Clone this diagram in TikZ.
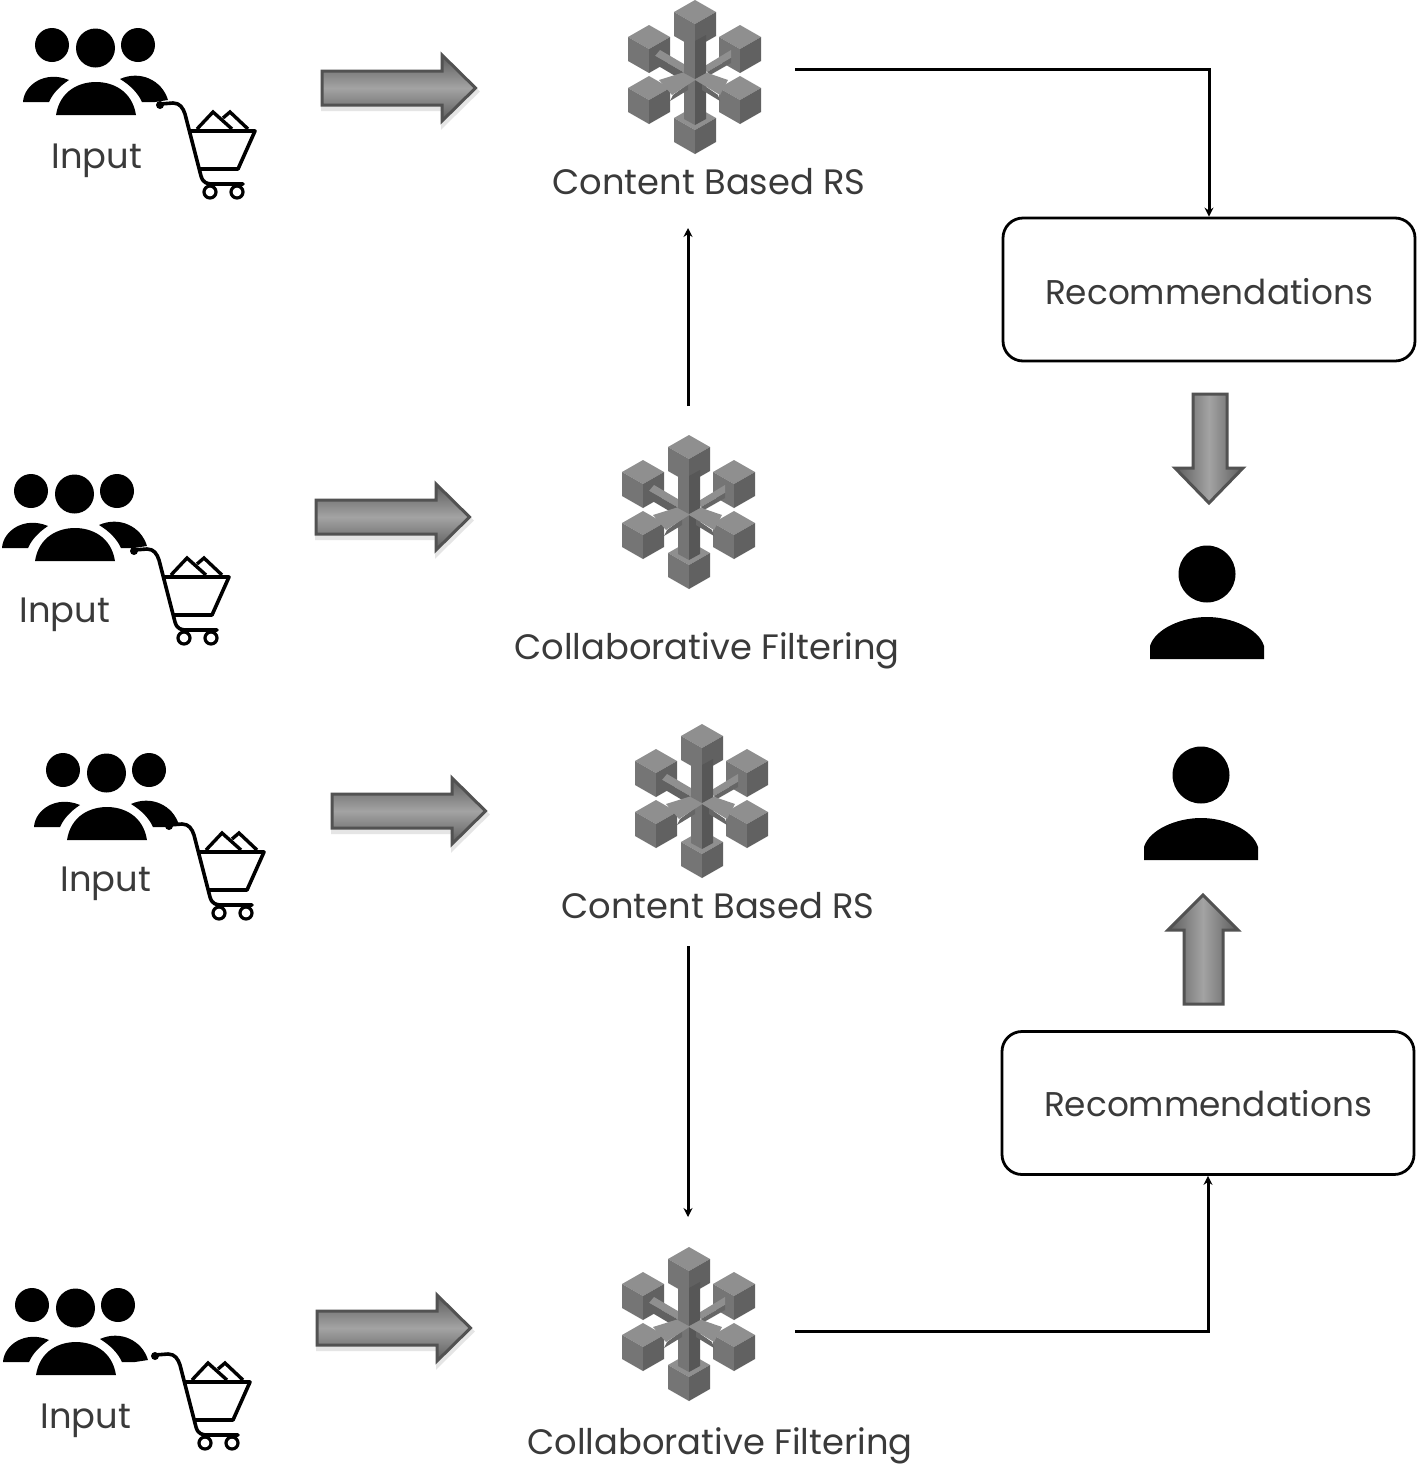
\documentclass[tikz,border=0pt]{standalone}
\usepackage{fontspec}
\setmainfont{Poppins}
\usetikzlibrary{arrows.meta}
\definecolor{txt}{HTML}{3A3A3A}
\tikzset{
  lbl/.style={text=txt,inner sep=0pt,font=\fontsize{35.3}{35.3}\selectfont},
  rectext/.style={text=txt,inner sep=0pt,font=\fontsize{34.3}{34.3}\selectfont},
  recbox/.style={draw=black,line width=2.8pt,rounded corners=20pt,minimum width=412pt,minimum height=143pt,inner sep=0pt},
  conn/.style={draw=black,line width=3pt,-{Stealth[length=9pt,width=9pt]}},
  blockh/.style={draw=black!68,line width=3pt,line join=miter,top color=black!64,bottom color=black!64,middle color=black!36},
  blockv/.style={draw=black!68,line width=3pt,line join=miter,left color=black!64,right color=black!64,middle color=black!36},
  shadowb/.style={draw=black!10,line width=4pt,fill=black!10},
  cubeT/.style={fill=black!44},
  cubeL/.style={fill=black!54},
  cubeR/.style={fill=black!62},
  people/.pic={
    \fill[black] (52,45) circle[radius=17] (95.5,48) circle[radius=19.5] (138,45) circle[radius=17];
    \fill[black] (23,102) .. controls (24,85) and (45,70) .. (69,80) .. controls (60,86) and (53,93) .. (49,102) -- cycle;
    \fill[black] (56,115) .. controls (60,90) and (80,82) .. (96,82) .. controls (112,82) and (132,90) .. (136,115) -- cycle;
    \fill[black] (120,79) .. controls (140,70) and (162,80) .. (168,100) -- (155,102) -- (142,102) .. controls (138,93) and (130,85) .. (120,79) -- cycle;
  },
  cart/.pic={
    \fill[black] (160,105) circle[radius=4];
    \draw[black,line width=3.6pt,line join=round,line cap=round]
      (160,104) -- (173,103) .. controls (180,103) and (183,108) .. (185,114) -- (201,176) .. controls (203,183) and (207,184) .. (213,184) -- (243,184);
    \draw[black,line width=3.6pt,line join=round] (188,131) -- (255,131) -- (238,169) -- (198,169);
    \draw[black,line width=3.4pt,line join=miter] (197,129) -- (213,112) -- (232,129);
    \draw[black,line width=3.4pt,line join=miter] (223,118) -- (230,112) -- (248,129);
    \draw[black,line width=3.2pt,fill=white] (210,192) circle[radius=6] (237,192) circle[radius=6];
  },
  flakecube/.pic={
    \path[cubeT] (0,-24) -- (21,-12) -- (0,0) -- (-21,-12) -- cycle;
    \path[cubeL] (-21,-12) -- (0,0) -- (0,24) -- (-21,12) -- cycle;
    \path[cubeR] (21,-12) -- (0,0) -- (0,24) -- (21,12) -- cycle;
  },
  flake/.pic={
    \pic at (-46,-28) {flakecube};
    \pic at (45,-28) {flakecube};
    % upper bars
    \path[fill=black!44] (-35,-27) -- (-6,-10) -- (-10,-4) -- (-40,-21) -- cycle;
    \path[fill=black!62] (-40,-21) -- (-10,-4) -- (-13,3) -- (-40,-13) -- cycle;
    \path[fill=black!44] (36,-27) -- (8,-10) -- (12,-5) -- (36,-19) -- cycle;
    \path[fill=black!60] (36,-19) -- (12,-5) -- (15,-2) -- (36,-14) -- cycle;
    \pic at (0,53) {flakecube};
    % lower vertical bar
    \path[fill=black!54] (-11,-6) -- (0,0) -- (0,48) -- (-11,42) -- cycle;
    \path[fill=black!66] (11,-6) -- (0,0) -- (0,48) -- (11,42) -- cycle;
    \pic at (-46,23) {flakecube};
    \pic at (45,23) {flakecube};
    % lower side bars
    \path[fill=black!60] (-25,24) -- (-22,18) -- (-7,7) -- (-7,13) -- cycle;
    \path[fill=black!44] (-36,3) -- (-4,-7) -- (5,0) -- (-23,18) -- cycle;
    \path[fill=black!60] (25,24) -- (23,18) -- (7,7) -- (7,13) -- cycle;
    \path[fill=black!44] (33,3) -- (4,-7) -- (-5,0) -- (25,18) -- cycle;
    % upper vertical bar
    \pic at (0,-53) {flakecube};
    \path[fill=black!54] (-11,-42) -- (0,-36) -- (0,2) -- (-11,-4) -- cycle;
    \path[fill=black!66] (11,-42) -- (0,-36) -- (0,2) -- (11,-4) -- cycle;
  },
  arrowh/.pic={
    \path[shadowb] (1,-15) -- (121,-15) -- (121,-30) -- (155,3.5) -- (121,37) -- (121,21) -- (1,21) -- cycle;
    \path[blockh] (0,-17) -- (120,-17) -- (120,-33) -- (153.5,0) -- (120,33) -- (120,17) -- (0,17) -- cycle;
  },
  personicon/.pic={
    \fill[black] (0,0) circle[radius=28.5];
    \fill[black] (-57,85) -- (-57,72) .. controls (-52,55) and (-25,43) .. (0,43) .. controls (25,43) and (52,55) .. (57,72) -- (57,85) -- cycle;
  }
}
\begin{document}
\begin{tikzpicture}[x=1pt,y=-1pt]
\useasboundingbox (0,0) rectangle (1419,1465);
\fill[white] (0,0) rectangle (1419,1465);

% inputs
\pic at (0,0) {people};      \pic at (0,0) {cart};
\pic at (-21,446) {people};  \pic at (-26,446) {cart};
\pic at (11,725) {people};   \pic at (9,721) {cart};
\pic at (-20,1260) {people}; \pic at (-5,1251) {cart};
\node[lbl] (in1) at (97,161) {Input};
\node[lbl] (in2) at (65,615) {Input};
\node[lbl] (in3) at (106,884) {Input};
\node[lbl] (in4) at (86,1421) {Input};

% block arrows
\pic at (322,88) {arrowh};
\pic at (316,517) {arrowh};
\pic at (332,811) {arrowh};
\pic at (317,1328) {arrowh};

% snowflakes
\pic at (695,77) {flake};
\pic at (689,512) {flake};
\pic at (702,801) {flake};
\pic at (689,1324) {flake};
\node[lbl] (cb1) at (709,182) {Content Based RS};
\node[lbl] (cf1) at (707,651) {Collaborative Filtering};
\node[lbl] (cb2) at (718,906) {Content Based RS};
\node[lbl] (cf2) at (720,1446) {Collaborative Filtering};

% recommendation boxes
\node[recbox] (rec1) at (1209,289.5) {};
\node[rectext] (rec1t) at (1209,292) {Recommendations};
\node[recbox] (rec2) at (1208,1103) {};
\node[rectext] (rec2t) at (1208,1104) {Recommendations};

% connectors
\coordinate (f1out) at (795,69);
\coordinate (f4out) at (795,1331);
\coordinate (f2up) at (688,406);
\coordinate (cb1in) at (688,228);
\coordinate (cb2out) at (688,946);
\coordinate (f4in) at (688,1217);
\draw[conn] (f1out) -| (rec1.north);
\draw[conn] (f4out) -| (rec2.south);
\draw[conn] (f2up) -- (cb1in);
\draw[conn] (cb2out) -- (f4in);

% persons
\pic at (1207,574) {personicon};
\pic at (1201,775) {personicon};

% vertical block arrows
\path[blockv] (1193,394) -- (1227,394) -- (1227,468) -- (1243,468) -- (1209,503) -- (1175,468) -- (1193,468) -- cycle;
\path[blockv] (1184,1004) -- (1223,1004) -- (1223,930) -- (1238,930) -- (1203,895) -- (1168,930) -- (1184,930) -- cycle;
\end{tikzpicture}
\end{document}
